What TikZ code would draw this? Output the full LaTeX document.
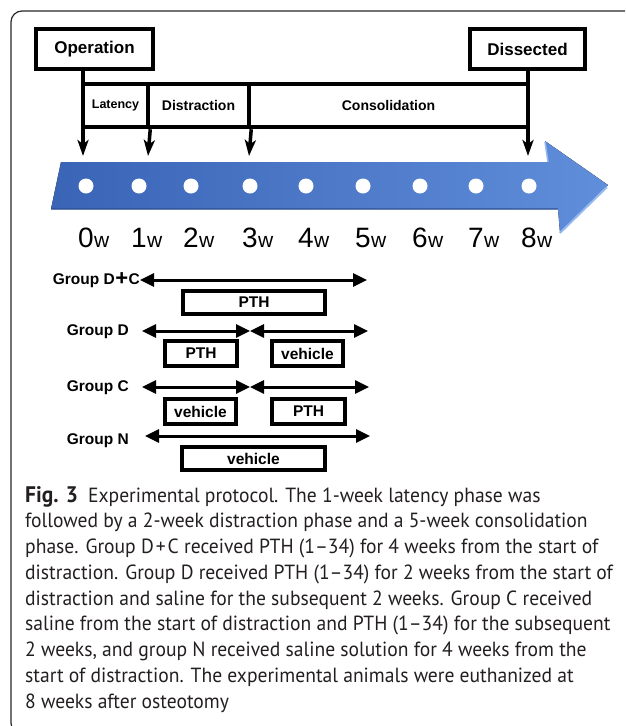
\documentclass[tikz,border=0pt]{standalone}
\usepackage{fontspec}
\setmainfont{Liberation Sans}
\newfontfamily\capfont[FakeStretch=0.955]{PT Sans}
\usetikzlibrary{arrows.meta}

\definecolor{bandL}{RGB}{58,100,182}
\definecolor{bandR}{RGB}{96,142,218}
\definecolor{bandHi}{RGB}{150,185,240}
\definecolor{bandLo}{RGB}{40,75,145}
\definecolor{frameC}{RGB}{40,40,40}
\definecolor{capC}{RGB}{35,31,32}

\tikzset{
  thickbox/.style={draw, line width=4pt, inner sep=0pt, font=\bfseries\fontsize{17}{20}\selectfont},
  cellbox/.style={draw, line width=4.5pt, inner sep=0pt},
  drugbox/.style={draw, line width=4pt, inner sep=0pt, font=\bfseries\fontsize{15.5}{18}\selectfont},
  grouplbl/.style={inner sep=0pt, font=\bfseries\fontsize{15.5}{18}\selectfont},
  downarrow/.style={line width=3.5pt, -{Stealth[length=16pt,width=11pt,inset=4pt]}},
  spanarrow/.style={line width=3pt, {Triangle[length=14pt,width=13pt]}-{Triangle[length=14pt,width=13pt]}},
  dot/.style={circle, fill=white, minimum size=15pt, inner sep=0pt},
  weeknum/.style={inner sep=0pt, font=\fontsize{28}{30}\selectfont},
  weekw/.style={inner sep=0pt, font=\fontsize{21}{24}\selectfont},
  capline/.style={inner sep=0pt, anchor=base west, text=capC, font=\capfont\fontsize{20.5}{24}\selectfont},
}

\begin{document}
\begin{tikzpicture}[x=1pt,y=-1pt]
\useasboundingbox (0,0) rectangle (625,726);
\clip (0,0) rectangle (625,726);

% outer frame
\draw[frameC, line width=1.2pt, rounded corners=11pt] (11,11) rectangle (680,734);

% start and end boxes
\node[thickbox, minimum width=117pt, minimum height=40pt] (op) at (94.5,49) {Operation};
\node[thickbox, minimum width=115pt, minimum height=40pt] (dis) at (527.5,49) {Dissected};

% phase cells
\node[cellbox, minimum width=65pt, minimum height=43pt] (lat) at (115.5,105.5) {};
\node[font=\bfseries\fontsize{12.5}{14}\selectfont] at (lat.center) {Latency};
\node[cellbox, minimum width=101pt, minimum height=43pt, font=\bfseries\fontsize{14}{16}\selectfont] (dst) at (198.5,105.5) {Distraction};
\node[cellbox, minimum width=279pt, minimum height=43pt, font=\bfseries\fontsize{14}{16}\selectfont] (con) at (388.5,105.5) {Consolidation};

% arrow tips on the time band
\coordinate (t0) at (83,156);
\coordinate (t1) at (148,156);
\coordinate (t3) at (249,156);
\coordinate (t8) at (528,156);

% time band
\fill[left color=bandL, right color=bandR]
  (61,162) -- (548,162) -- (545,141) -- (608,185) -- (560,233) -- (558,209) -- (51,209) -- cycle;
\draw[bandLo, line width=1.2pt, opacity=0.6] (51,209) -- (558,209);
\draw[bandHi, line width=2pt] (607,187) -- (560,233);
\draw[bandHi, line width=1.5pt] (545,142) -- (548,162);

% connectors from the boxes to the band
\draw[downarrow] (op.south -| t0) -- (t0);
\draw[downarrow] (lat.south east) -- (t1);
\draw[downarrow] (dst.south east) -- (t3);
\draw[downarrow] (dis.south -| t8) -- (t8);

% week markers
\foreach \i/\x in {0/86,1/139,2/191,3/250,4/306,5/363,6/420,7/476,8/529}{
  \node[dot] (d\i) at (\x,186) {};
  \node[weeknum, anchor=base] (n\i) at (\x,247.5) {\i};
  \node[weekw, anchor=base west] (w\i) at (n\i.base east) {w};
}

% group D+C
\node[grouplbl, anchor=east] (gdc) at (140,280) {Group D\hspace{0.5pt}{\fontsize{22}{22}\selectfont\raisebox{-1.5pt}{+}}\hspace{0.5pt}C};
\coordinate (gdcE) at (367,280);
\draw[spanarrow] (gdc.east) -- (gdcE);
\node[drugbox, minimum width=142pt, minimum height=23pt] (pdc) at (254,302.5) {PTH};

% group D
\node[grouplbl, anchor=east] (gd) at (129,332) {Group D};
\coordinate (gdA) at (142,331);
\coordinate (gdM) at (250,331);
\coordinate (gdB) at (368,331);
\draw[spanarrow] (gdA) -- (gdM);
\draw[spanarrow] (gdM) -- (gdB);
\node[drugbox, minimum width=72pt, minimum height=25pt] (pd1) at (201,353.5) {PTH};
\node[drugbox, minimum width=71pt, minimum height=25pt] (pd2) at (307.5,353.5) {vehicle};

% group C
\node[grouplbl, anchor=east] (gc) at (129,388) {Group C};
\coordinate (gcA) at (142,387);
\coordinate (gcM) at (250,387);
\coordinate (gcB) at (369,387);
\draw[spanarrow] (gcA) -- (gcM);
\draw[spanarrow] (gcM) -- (gcB);
\node[drugbox, minimum width=71pt, minimum height=25pt] (pc1) at (200.5,411.5) {vehicle};
\node[drugbox, minimum width=73pt, minimum height=25pt] (pc2) at (308.5,411.5) {PTH};

% group N
\node[grouplbl, anchor=east] (gn) at (129,441) {Group N};
\coordinate (gnA) at (145,436);
\coordinate (gnB) at (370,436);
\draw[spanarrow] (gnA) -- (gnB);
\node[drugbox, minimum width=143pt, minimum height=23pt] (pn) at (253.5,458.5) {vehicle};

% caption
\node[capline] (c1) at (25,502) {{\fontsize{22.5}{24}\selectfont\bfseries Fig. 3}\hspace{10pt}Experimental protocol. The 1-week latency phase was};
\node[capline] (c2) at (25,527.75) {followed by a 2-week distraction phase and a 5-week consolidation};
\node[capline] (c3) at (25,553.5) {phase. Group D\hspace{2pt}+\hspace{2pt}C received PTH (1–34) for 4 weeks from the start of};
\node[capline] (c4) at (25,579.25) {distraction. Group D received PTH (1–34) for 2 weeks from the start of};
\node[capline] (c5) at (25,605) {distraction and saline for the subsequent 2 weeks. Group C received};
\node[capline] (c6) at (25,630.75) {saline from the start of distraction and PTH (1–34) for the subsequent};
\node[capline] (c7) at (25,656.5) {2 weeks, and group N received saline solution for 4 weeks from the};
\node[capline] (c8) at (25,682.25) {start of distraction. The experimental animals were euthanized at};
\node[capline] (c9) at (25,708) {8 weeks after osteotomy};
\end{tikzpicture}
\end{document}
